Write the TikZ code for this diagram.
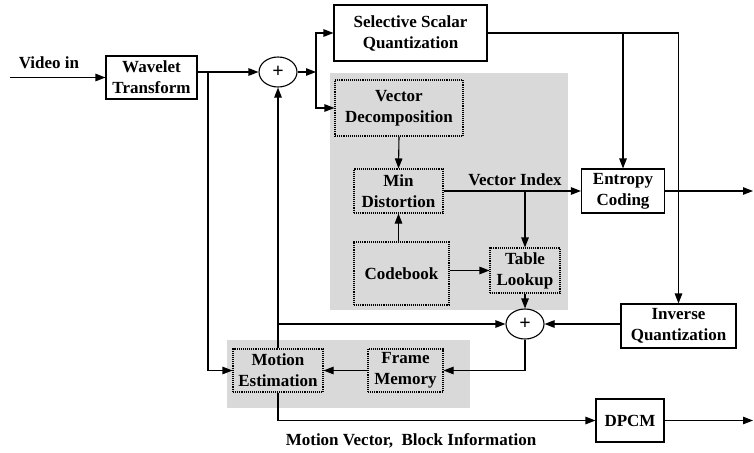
\documentclass[tikz,border=0pt]{standalone}
\usepackage{fontspec}
\setmainfont{Liberation Serif}
\usetikzlibrary{arrows.meta,shapes.geometric}

\tikzset{
  caja/.style={draw, line width=1.1pt, align=center, inner sep=0pt, font=\bfseries\fontsize{17}{21}\selectfont},
  cajap/.style={caja, densely dotted},
  suma/.style={draw, ellipse, line width=1.1pt, minimum width=38pt, minimum height=30pt, inner sep=0pt, font=\bfseries\fontsize{20}{20}\selectfont},
  flecha/.style={line width=1.1pt, -{Triangle[length=10pt,width=7.5pt]}},
  linea/.style={line width=1.1pt},
  etiq/.style={font=\bfseries\fontsize{17}{21}\selectfont}
}

\begin{document}
\begin{tikzpicture}[x=1pt,y=-1pt]

    \useasboundingbox (0,0) rectangle (754,452);

    % zonas sombreadas
    \fill[black!15] (330,73) rectangle (568,310);
    \fill[black!15] (227,340) rectangle (470,408);

    % bloques
    \node[caja, minimum width=91pt, minimum height=43pt] (wav) at (151.5,77.5) {Wavelet\\Transform};
    \node[suma] (sum1) at (278,72) {+};
    \node[caja, minimum width=153pt, minimum height=56pt] (ssq) at (410.5,33) {Selective Scalar\\Quantization};
    \node[cajap, minimum width=128pt, minimum height=56pt] (vd) at (399,108) {Vector\\Decomposition};
    \node[cajap, minimum width=89pt, minimum height=44pt] (md) at (398.5,191) {Min\\Distortion};
    \node[cajap, minimum width=95pt, minimum height=63pt] (cb) at (401.5,273.5) {Codebook};
    \node[cajap, minimum width=70pt, minimum height=45pt] (tl) at (525,270.5) {Table\\Lookup};
    \node[caja, minimum width=83pt, minimum height=44pt] (ec) at (623,191) {Entropy\\Coding};
    \node[caja, minimum width=115pt, minimum height=44pt] (iq) at (678.5,326) {Inverse\\Quantization};
    \node[suma] (sum2) at (525,324) {+};
    \node[cajap, minimum width=75pt, minimum height=43pt] (fm) at (405.5,370.5) {Frame\\Memory};
    \node[cajap, minimum width=90pt, minimum height=43pt] (me) at (278,370.5) {Motion\\Estimation};
    \node[caja, minimum width=68pt, minimum height=43pt] (dpcm) at (630,420.5) {DPCM};

    % leyendas
    \node[etiq] (vin) at (49,63) {Video in};
    \node[etiq] (vix) at (515,180) {Vector Index};
    \node[etiq] (mvb) at (411,441) {Motion Vector,\ \ Block Information};

    % puntos de entrada, salida y ramas
    \coordinate (ent) at (10,77.5);
    \coordinate (sal1) at (753,191);
    \coordinate (sal2) at (753,420.5);
    \coordinate (rama1) at (208,72);
    \coordinate (rama2) at (316,72);
    \coordinate (rama3) at (me.north |- sum2);

    % conexiones
    \draw[flecha] (ent) -- (wav.west);
    \draw[flecha] (wav.east |- sum1) -- (sum1.west);
    \draw[flecha] (sum1.east) -- (rama2);
    \draw[flecha] (rama2) |- (ssq.west);
    \draw[flecha] (rama2) |- (vd.west);
    \draw[flecha] (vd.south) -- (md.north);
    \draw[flecha] (cb.north -| md) -- (md.south);
    \draw[flecha] (md.east) -- (ec.west);
    \draw[flecha] (md.east -| tl) -- (tl.north);
    \draw[flecha] (cb.east |- tl) -- (tl.west);
    \draw[flecha] (tl.south) -- (sum2.north);
    \draw[flecha] (ec.east) -- (sal1);
    \draw[flecha] (ssq.east) -| (iq.north);
    \draw[flecha] (ssq.east -| ec) -- (ec.north);
    \draw[flecha] (iq.west |- sum2) -- (sum2.east);
    \draw[flecha] (sum2.south) |- (fm.east);
    \draw[flecha] (fm.west) -- (me.east);
    \draw[flecha] (rama1) |- (me.west);
    \draw[flecha] (me.north) -- (sum1.south);
    \draw[flecha] (rama3) -- (sum2.west);
    \draw[flecha] (me.south) |- (dpcm.west);
    \draw[flecha] (dpcm.east) -- (sal2);

\end{tikzpicture}
\end{document}
